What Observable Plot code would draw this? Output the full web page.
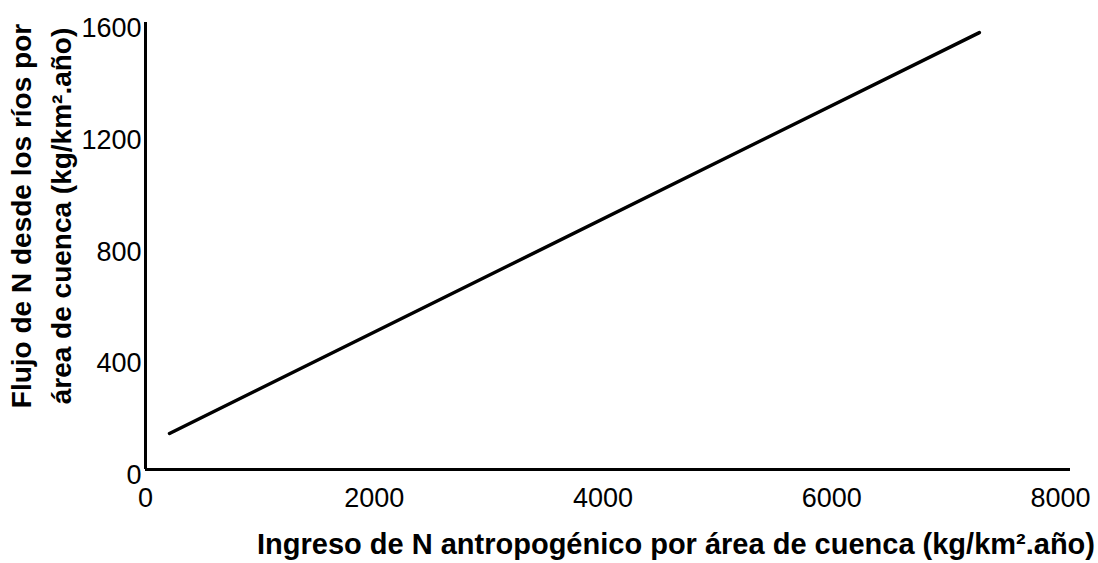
<!DOCTYPE html>
<html>
<head>
<meta charset="utf-8">
<script src="https://cdn.jsdelivr.net/npm/d3@7"></script>
<script src="https://cdn.jsdelivr.net/npm/@observablehq/plot@0.6"></script>
<style>
  html, body { margin: 0; padding: 0; background: #fff; }
  svg { display: block; }
</style>
</head>
<body>
<div id="chart"></div>
<script>
const xInput = [210, 7290];
const yFlux = [129, 1564];
const xTicks = [0, 2000, 4000, 6000, 8000];
const yTicks = [0, 400, 800, 1200, 1600];
const xTitle = "Ingreso de N antropogénico por área de cuenca (kg/km².año)";
const yTitleLines = ["Flujo de N desde los ríos por", "área de cuenca (kg/km².año)"];

const lineData = xInput.map((x, i) => ({x, y: yFlux[i]}));
const font = "'Liberation Sans', Arial, Helvetica, sans-serif";

const chart = Plot.plot({
  width: 1098,
  height: 563,
  marginLeft: 145,
  marginRight: 28,
  marginTop: 22,
  marginBottom: 94,
  style: {fontFamily: font, color: "#000", background: "#fff"},
  x: {domain: [0, 8087]},
  y: {domain: [0, 1600]},
  marks: [
    Plot.axisX({ticks: xTicks, tickSize: 0, tickPadding: 18, fontSize: 27, tickFormat: d => String(d), label: null}),
    Plot.axisY({ticks: yTicks, tickSize: 0, tickPadding: 4, fontSize: 27, dy: 6, tickFormat: d => String(d), label: null}),
    Plot.ruleX([0], {y1: 0, y2: 1600, stroke: "#000", strokeWidth: 3}),
    Plot.ruleY([0], {x1: 0, x2: 8087, stroke: "#000", strokeWidth: 3}),
    Plot.line(lineData, {x: "x", y: "y", stroke: "#000", strokeWidth: 3.5}),
    Plot.text([xTitle], {frameAnchor: "bottom", text: d => d, dx: 68, dy: 84, fontSize: 29, fontWeight: "bold", textAnchor: "middle"}),
    Plot.text([yTitleLines[0]], {frameAnchor: "left", text: d => d, rotate: -90, dx: -123, dy: -30, fontSize: 28, fontWeight: "bold", textAnchor: "middle"}),
    Plot.text([yTitleLines[1]], {frameAnchor: "left", text: d => d, rotate: -90, dx: -83, dy: -30, fontSize: 28, fontWeight: "bold", textAnchor: "middle"})
  ]
});
document.getElementById("chart").appendChild(chart);
</script>
</body>
</html>
